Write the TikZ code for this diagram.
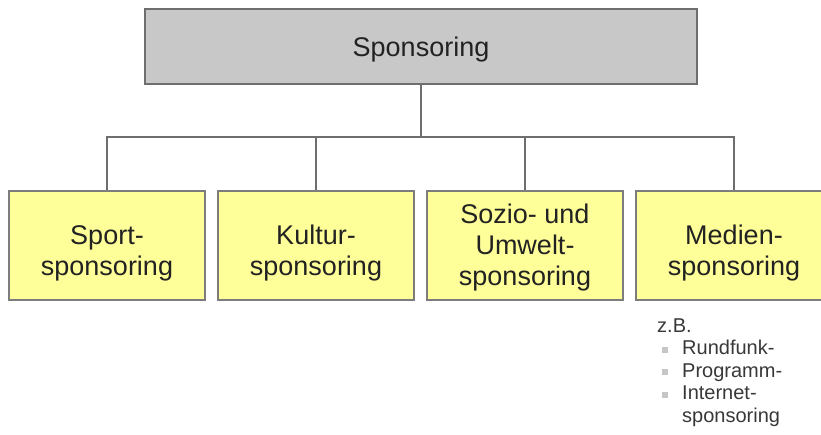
\documentclass[tikz,border=0pt]{standalone}
\usepackage{fontspec}
\setmainfont{Liberation Sans}
\definecolor{boxyellow}{HTML}{FFFF99}
\definecolor{boxgray}{HTML}{C8C8C8}
\definecolor{linegray}{HTML}{6E6E6E}
\definecolor{textdark}{HTML}{222222}
\newcommand{\dropby}[1]{\rule{0pt}{#1}}

\begin{document}
\begin{tikzpicture}[x=1pt,y=-1pt,
    topbox/.style={draw=linegray, fill=boxgray, line width=1.4pt,
        minimum width=552pt, minimum height=75pt, text=textdark,
        font=\fontsize{27}{31}\selectfont},
    subbox/.style={draw=linegray!90, fill=boxyellow, line width=1.4pt,
        minimum width=196pt, minimum height=109pt, align=center,
        text=textdark, font=\fontsize{27}{31}\selectfont},
    link/.style={draw=linegray, line width=1.3pt},
    smalltext/.style={anchor=base west, inner sep=0pt, align=left,
        text=textdark!90, font=\fontsize{20}{22.5}\selectfont},
    bullet/.style={fill=gray!45, minimum size=6pt, inner sep=0pt}]

        % Fix the page size
        \useasboundingbox (0,0) rectangle (821,435);
        \clip (0,0) rectangle (821,435);

        % Draw the top box
        \node[topbox] (sponsoring) at (421,46.5) {\dropby{25.5pt}Sponsoring};

        % Draw the four kinds of sponsoring
        \node[subbox] (sport) at (107,245.5) {\dropby{34.5pt}Sport-\\sponsoring};
        \node[subbox] (kultur) at (316,245.5) {\dropby{34.5pt}Kultur-\\sponsoring};
        \node[subbox] (sozio) at (525,245.5) {\dropby{23pt}Sozio- und\\Umwelt-\\sponsoring};
        \node[subbox] (medien) at (734,245.5) {\dropby{34.5pt}Medien-\\sponsoring};

        % Draw the connectors
        \coordinate (bar) at (421,137);
        \draw[link] (sponsoring.south) -- (bar);
        \foreach \n in {sport, kultur, sozio, medien}
            \draw[link] (bar) -| (\n.north);

        % Examples below Mediensponsoring
        \node[smalltext] (zb) at (657,332) {z.B.};
        \foreach \t [count=\k] in {Rundfunk-, Programm-, Internet-} {
            \node[smalltext] (item\k) at (682,332+22.5*\k) {\t};
            \node[bullet] (dot\k) at (665,327+22.5*\k) {};
        }
        \node[smalltext] (item4) at (682,422) {sponsoring};
    \end{tikzpicture}
\end{document}
